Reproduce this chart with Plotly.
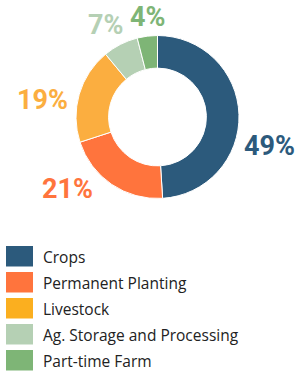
import math
import plotly.graph_objects as go

categories = ["Crops", "Permanent Planting", "Livestock", "Ag. Storage and Processing", "Part-time Farm"]
values = [49, 21, 19, 7, 4]
pct_labels = [f"{v}%" for v in values]

slice_colors = ["#2C5A7C", "#FF743D", "#FBAE40", "#B5D0B4", "#7EB576"]
legend_colors = ["#2C5A7C", "#FF743D", "#FBAF1F", "#B5D0B4", "#7EB576"]

W, H = 301, 371
CX, CY, R = 157.5, 117.0, 81.5          # donut centre / outer radius in pixels
LABEL_SIZE = 27
LABEL_GAP = 8
# small angular nudges (degrees) applied to each label's mid-angle placement
label_nudge_deg = [16.5, 17, -8, -2.4, 1.4]


def px(x):
    return x / W


def py(y):
    return 1 - y / H


fig = go.Figure()
fig.add_trace(go.Pie(
    labels=categories,
    values=values,
    textinfo="none",
    sort=False,
    direction="clockwise",
    rotation=0,
    hole=0.6,
    marker=dict(colors=slice_colors, line=dict(color="white", width=1)),
    domain=dict(x=[px(CX - R), px(CX + R)], y=[py(CY + R), py(CY - R)]),
    showlegend=False,
    hoverinfo="label+percent",
))

annotations = []
shapes = []

# percentage labels placed around the donut at each slice's mid-angle
total = sum(values)
cum = 0
for v, lab, col, nd in zip(values, pct_labels, slice_colors, label_nudge_deg):
    mid = (cum + v / 2) / total * 360 + nd
    cum += v
    ux, uy = math.sin(math.radians(mid)), -math.cos(math.radians(mid))
    w = 0.62 * LABEL_SIZE * len(lab)
    h = 0.70 * LABEL_SIZE
    r = R + LABEL_GAP + abs(ux) * w / 2 + abs(uy) * h / 2
    annotations.append(dict(
        xref="paper", yref="paper", x=px(CX + r * ux), y=py(CY + r * uy),
        text=f"<b>{lab}</b>", showarrow=False, xanchor="center", yanchor="middle",
        font=dict(family="Roboto", size=LABEL_SIZE, color=col),
    ))

# custom legend with large swatches
for i, (cat, col) in enumerate(zip(categories, legend_colors)):
    top = 246 + i * 26
    shapes.append(dict(type="rect", xref="paper", yref="paper",
                       x0=px(6), x1=px(33), y0=py(top + 20.5), y1=py(top),
                       fillcolor=col, line=dict(width=0)))
    annotations.append(dict(xref="paper", yref="paper", x=px(42), y=py(top + 11),
                            text=cat, showarrow=False, xanchor="left", yanchor="middle",
                            borderpad=0,
                            font=dict(family="Open Sans", size=15.5, color="#222222")))

fig.update_layout(
    width=W, height=H,
    margin=dict(l=0, r=0, t=0, b=0),
    paper_bgcolor="white", plot_bgcolor="white",
    shapes=shapes, annotations=annotations,
)

fig.write_html("out.html", config={"displayModeBar": False},
               post_script="document.body.style.margin='0px';")
